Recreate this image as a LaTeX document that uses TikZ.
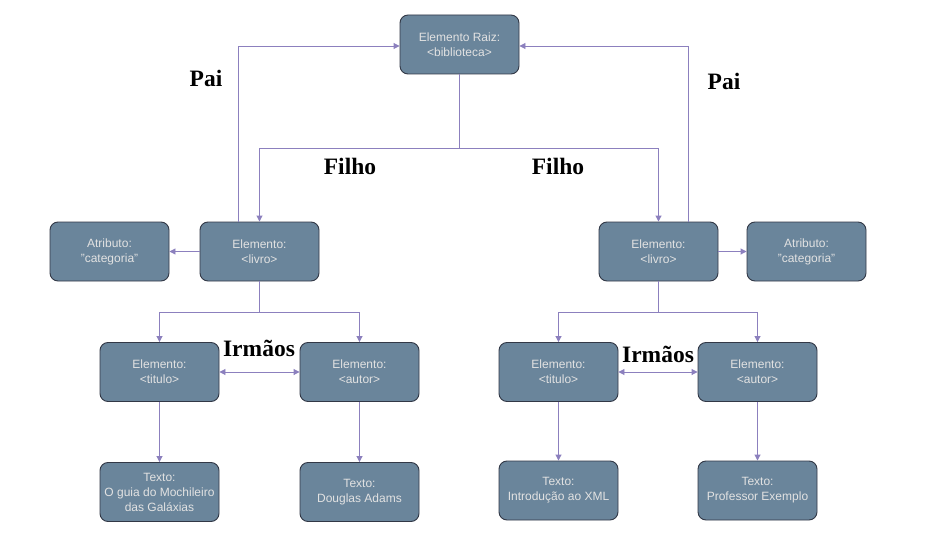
\documentclass[tikz,border=0pt]{standalone}
\usepackage{fontspec}
\setmainfont{Liberation Sans}
\newfontfamily\labelfont{Liberation Serif}
\usetikzlibrary{arrows.meta}
\definecolor{boxfill}{RGB}{106,133,155}
\definecolor{boxline}{RGB}{50,56,70}
\definecolor{boxtext}{RGB}{226,226,226}
\definecolor{connclr}{RGB}{140,128,190}
\begin{document}
\begin{tikzpicture}[x=1pt,y=-1pt,
  box/.style={draw=boxline, fill=boxfill, line width=0.9pt, rounded corners=8pt,
    minimum width=119pt, minimum height=59pt, inner sep=0pt, align=center,
    text=boxtext, font=\fontsize{12}{15}\selectfont},
  conn/.style={draw=connclr, line width=0.9pt, -{Triangle[length=6pt,width=6pt]}},
  dconn/.style={draw=connclr, line width=0.9pt, {Triangle[length=6pt,width=6pt]}-{Triangle[length=6pt,width=6pt]}},
  lbl/.style={font=\labelfont\bfseries\fontsize{23.5}{28}\selectfont, text=black}]
\useasboundingbox[fill=white] (0,0) rectangle (929,559);

\node[box] (root) at (459.5,44.5) {Elemento Raiz:\\<biblioteca>};
\node[box] (livroL) at (259.5,251.5) {Elemento:\\<livro>};
\node[box] (atrL) at (109.5,251.5) {Atributo:\\"categoria"};
\node[box] (livroR) at (658.5,251.5) {Elemento:\\<livro>};
\node[box] (atrR) at (806.5,251.5) {Atributo:\\"categoria"};
\node[box] (titL) at (159.5,372) {Elemento:\\<titulo>};
\node[box] (autL) at (359.5,372) {Elemento:\\<autor>};
\node[box] (titR) at (558.5,372) {Elemento:\\<titulo>};
\node[box] (autR) at (757.5,372) {Elemento:\\<autor>};
\node[box] (txtL1) at (159.5,492) {Texto:\\O guia do Mochileiro\\das Galáxias};
\node[box] (txtL2) at (359.5,492) {Texto:\\Douglas Adams};
\node[box] (txtR1) at (558.5,490.5) {Texto:\\Introdução ao XML};
\node[box] (txtR2) at (757.5,490.5) {Texto:\\Professor Exemplo};

% Filho
\draw[conn] (root.south) -- (root.south |- 0,148) -| (livroL.north);
\draw[conn] (root.south) -- (root.south |- 0,148) -| (livroR.north);
% Pai
\draw[conn] ([xshift=-21pt]livroL.north) |- ([yshift=-1.5pt]root.west);
\draw[conn] ([xshift=30pt]livroR.north) |- ([yshift=-1.5pt]root.east);
% Atributos
\draw[conn] (livroL.west) -- (atrL.east);
\draw[conn] (livroR.east) -- (atrR.west);
% children
\draw[conn] (livroL.south) -- (livroL.south |- 0,312) -| (titL.north);
\draw[conn] (livroL.south) -- (livroL.south |- 0,312) -| (autL.north);
\draw[conn] (livroR.south) -- (livroR.south |- 0,312) -| (titR.north);
\draw[conn] (livroR.south) -- (livroR.south |- 0,312) -| (autR.north);
% Irmaos
\draw[dconn] (titL.east) -- (autL.west);
\draw[dconn] (titR.east) -- (autR.west);
% texts
\draw[conn] (titL.south) -- (txtL1.north);
\draw[conn] (autL.south) -- (txtL2.north);
\draw[conn] (titR.south) -- (txtR1.north);
\draw[conn] (autR.south) -- (txtR2.north);

\node[lbl] (paiL) at (206,78) {Pai};
\node[lbl] (paiR) at (724,81) {Pai};
\node[lbl] (filhoL) at (350,166) {Filho};
\node[lbl] (filhoR) at (558,166) {Filho};
\node[lbl] (irmL) at (259,348) {Irmãos};
\node[lbl] (irmR) at (658,354) {Irmãos};
\end{tikzpicture}
\end{document}
